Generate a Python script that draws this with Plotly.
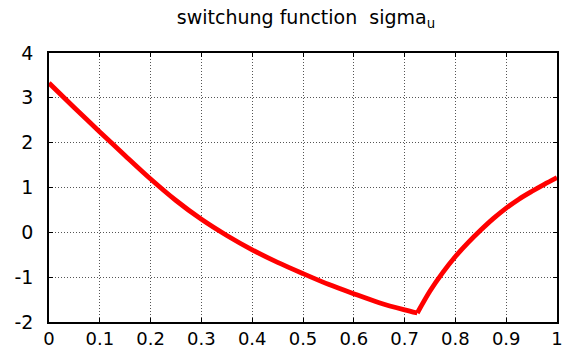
import plotly.graph_objects as go

# sigma_u, split at the switching point (corner at x ~ 0.725)
x_left = [0, 0.05, 0.1, 0.15, 0.2, 0.25, 0.3, 0.35, 0.4, 0.45, 0.5, 0.55, 0.6, 0.65, 0.7, 0.725]
y_left = [3.33, 2.78, 2.24, 1.71, 1.19, 0.71, 0.29, -0.07, -0.39, -0.67, -0.92, -1.16, -1.37, -1.57, -1.73, -1.80]
x_right = [0.725, 0.75, 0.775, 0.8, 0.825, 0.85, 0.875, 0.9, 0.925, 0.95, 0.975, 1.0]
y_right = [-1.80, -1.31, -0.90, -0.54, -0.23, 0.05, 0.31, 0.54, 0.74, 0.91, 1.07, 1.22]

x_ticks = [0, 0.1, 0.2, 0.3, 0.4, 0.5, 0.6, 0.7, 0.8, 0.9, 1]
x_tick_labels = ["0", "0.1", "0.2", "0.3", "0.4", "0.5", "0.6", "0.7", "0.8", "0.9", "1"]
y_ticks = [-2, -1, 0, 1, 2, 3, 4]
y_tick_labels = ["-2", "-1", "0", "1", "2", "3", "4"]

FONT = "DejaVu Sans, Liberation Sans, Arial, sans-serif"

fig = go.Figure()
for xs, ys in ((x_left, y_left), (x_right, y_right)):
    fig.add_trace(go.Scatter(x=xs, y=ys, mode="lines",
                             line=dict(color="#ff0000", width=4.8, shape="spline", smoothing=0.8),
                             showlegend=False, hoverinfo="x+y"))

axis_common = dict(showline=True, linecolor="black", linewidth=1.5, mirror="ticks",
                   showgrid=True, gridcolor="#555555", griddash="1px,2px", gridwidth=1,
                   ticks="inside", ticklen=4, tickcolor="black", tickwidth=1, zeroline=False)

fig.update_xaxes(range=[0, 1], tickvals=x_ticks, ticktext=x_tick_labels,
                 ticklabelstandoff=0,
                 tickfont=dict(family=FONT, size=18, color="black"), **axis_common)
fig.update_yaxes(range=[-2, 4], tickvals=y_ticks, ticktext=y_tick_labels,
                 ticklabelstandoff=10,
                 tickfont=dict(family=FONT, size=19, color="black"), **axis_common)

fig.update_layout(
    width=565, height=350,
    margin=dict(l=48.5, r=8, t=52.7, b=27.5, autoexpand=False),
    paper_bgcolor="white", plot_bgcolor="white",
    title=dict(text="switchung function  sigma<sub>u</sub>",
               x=306 / 565, xanchor="center",
               y=1 - 17 / 350, yanchor="middle",
               font=dict(family=FONT, size=19, color="black")),
)

# remove the default page margin so the 565x350 figure fills the window exactly
fig.write_html("out.html",
               config={"displayModeBar": False},
               post_script="document.body.style.margin='0';document.body.style.overflow='hidden';")
